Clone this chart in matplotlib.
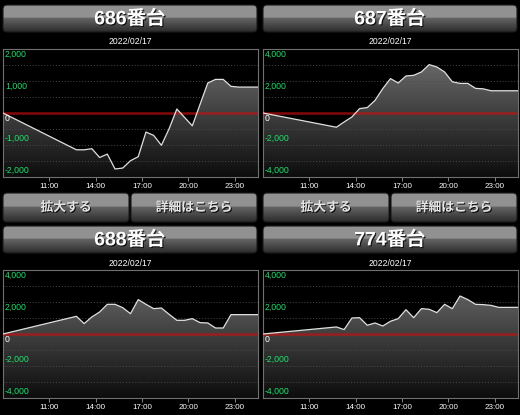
import matplotlib.pyplot as plt
import matplotlib.patheffects as pe
import numpy as np
from matplotlib.patches import FancyBboxPatch, Polygon

plt.rcParams["font.family"] = ["Liberation Sans", "Noto Sans CJK JP"]

# %% data
DATE = "2022/02/17"
MACHINES = ["686番台", "687番台", "688番台", "774番台"]
BUTTONS = ["拡大する", "詳細はこちら"]
X_RANGE = ["8:00", "24:30"]
X_TICKS = ["11:00", "14:00", "17:00", "20:00", "23:00"]
TIMES = ["8:00", "12:45", "13:15", "13:45", "14:15", "14:45", "15:15", "15:45",
         "16:15", "16:45", "17:15", "17:45", "18:15", "18:45", "19:15", "19:45",
         "20:15", "20:45", "21:15", "21:45", "22:15", "22:45", "23:15", "24:30"]
SLUMP_686 = [0, -1150, -1150, -1115, -1390, -1285, -1750, -1720, -1490, -1365, -595, -700,
             -1010, -490, 125, -140, -400, 270, 937, 1050, 1050, 833, 810, 810]
SLUMP_687 = [0, -890, -560, -250, 275, 340, 790, 1525, 2150, 1875, 2315, 2355,
             2565, 3025, 2875, 2565, 1950, 1850, 1850, 1540, 1510, 1390, 1390, 1390]
SLUMP_688 = [0, 1105, 650, 1065, 1375, 1855, 1855, 1645, 1270, 2150, 1855, 1585,
             1625, 1230, 855, 855, 960, 710, 690, 375, 375, 1210, 1210, 1210]
SLUMP_774 = [0, 440, 275, 1000, 1020, 545, 690, 500, 795, 960, 1520, 1020,
             1585, 1545, 1335, 1855, 1585, 2375, 2150, 1855, 1835, 1790, 1665, 1665]
Y_LIMITS = [2000, 4000, 4000, 4000]


def to_hours(label):
    h, m = label.split(":")
    return int(h) + int(m) / 60


hours = [to_hours(t) for t in TIMES]
series = [SLUMP_686, SLUMP_687, SLUMP_688, SLUMP_774]

# %% figure in pixel units
W, H = 520, 415
fig = plt.figure(figsize=(W / 100, H / 100), dpi=100, facecolor="black")
bg = fig.add_axes([0, 0, 1, 1])
bg.set_facecolor("black")
bg.axis("off")

shadow = [pe.withSimplePatchShadow(offset=(0.8, -0.8), shadow_rgbFace="black", alpha=0.8)]


def glossy(x, y, w, h, text, size, color):
    frac = np.linspace(0, 1, 64)
    shade = np.where(frac < 0.47, 0.57, 0.40 - 0.23 * (frac - 0.47) / 0.53)
    img = np.repeat(shade[:, None, None], 3, axis=2)
    patch = FancyBboxPatch((x, y), w, h, boxstyle="round,pad=0,rounding_size=4",
                           fc="none", ec="#1a1a1a", lw=0.8, zorder=2)
    bg.add_patch(patch)
    im = bg.imshow(img, extent=(x, x + w, y + h, y), aspect="auto",
                   interpolation="bilinear", zorder=1)
    im.set_clip_path(patch)
    bg.text(x + w / 2, y + h / 2 + 0.5, text, ha="center", va="center", size=size,
            weight="bold", color=color, path_effects=shadow, zorder=3)


def slump_chart(x, y, values, ylim):
    ax = fig.add_axes([x / W, 1 - (y + 128) / H, 255 / W, 128 / H])
    ax.set_facecolor("black")
    x0, x1 = to_hours(X_RANGE[0]), to_hours(X_RANGE[1])

    grad = np.linspace(0.45, 0.05, 128)
    img = np.repeat(grad[:, None, None], 3, axis=2)
    im = ax.imshow(img, extent=(x0, x1, -ylim, ylim), aspect="auto", zorder=1)
    poly = Polygon(list(zip(hours, values)) + [(hours[-1], -ylim), (hours[0], -ylim)],
                   closed=True, fc="none", ec="none")
    ax.add_patch(poly)
    im.set_clip_path(poly)

    for g in np.arange(-ylim, ylim + 1, ylim / 4):
        if g not in (-ylim, 0, ylim):
            ax.axhline(g, color="#4a4a4a", lw=0.7, ls=(0, (1, 2)), zorder=2)
    ax.axhline(0, color=(0.8, 0.05, 0.05), alpha=0.65, lw=1.8, zorder=3)
    ax.plot(hours, values, color="#e0e0e0", lw=0.9, zorder=4)

    for v in np.arange(-ylim, ylim + 1, ylim / 2):
        v = int(v)
        below = v >= 0
        ax.annotate(f"{v:,}", xy=(0, v), xycoords=("axes fraction", "data"),
                    xytext=(2, -1 if below else 2), textcoords="offset pixels",
                    va="top" if below else "bottom", ha="left", size=6.3,
                    color="white" if v == 0 else "#1be26a", zorder=5)

    ax.set_xlim(x0, x1)
    ax.set_ylim(-ylim, ylim)
    ax.set_yticks([])
    ax.set_xticks([to_hours(t) for t in X_TICKS], X_TICKS)
    ax.tick_params(axis="x", length=3, width=0.6, color="#999999", labelcolor="white",
                   labelsize=5.8, pad=1.5)
    for s in ax.spines.values():
        s.set_color("#707070")
        s.set_linewidth(0.8)


for i, (name, values, ylim) in enumerate(zip(MACHINES, series, Y_LIMITS)):
    col = 3 + 260 * (i % 2)
    off = 221 * (i // 2)
    glossy(col, 5 + off, 254, 27, name, 14, "white")
    bg.text(col + 127.5, 42 + off, DATE, ha="center", va="center", size=6.2, color="white")
    slump_chart(col, 49 + off, values, ylim)
    if i < 2:
        for j, label in enumerate(BUTTONS):
            glossy(col + 128 * j, 193, 126, 29, label, 9.2, "#e6e6e6")

bg.set_xlim(0, W)
bg.set_ylim(H, 0)

fig.savefig("out.png", dpi=100, facecolor="black")
